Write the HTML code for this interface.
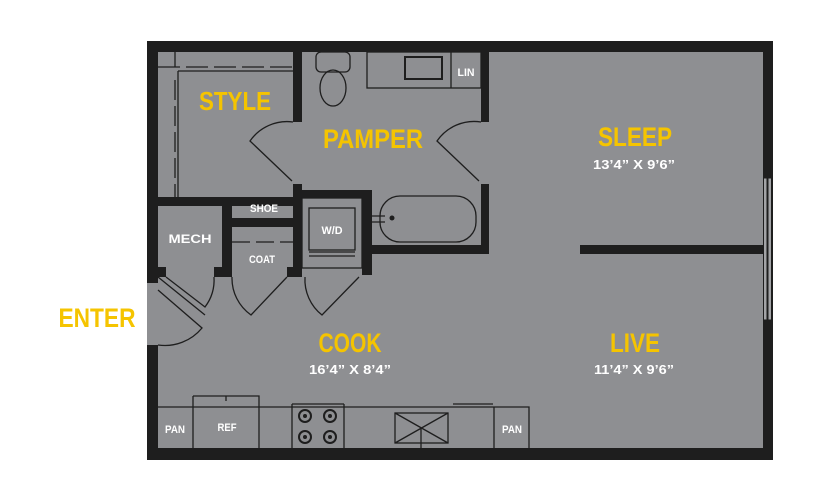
<!DOCTYPE html>
<html><head><meta charset="utf-8"><style>
html,body{margin:0;padding:0;background:#fff;}
svg{display:block;}
.y{fill:#f5c400;font-family:"Liberation Sans",sans-serif;font-weight:bold;}
.w{fill:#fff;font-family:"Liberation Sans",sans-serif;font-weight:bold;}
</style></head><body>
<svg width="825" height="500" viewBox="0 0 825 500" xmlns="http://www.w3.org/2000/svg">
<rect x="147" y="41" width="626" height="419" fill="#8e8f92"/>
<g fill="#1e1e1e">
<rect x="147" y="41" width="626" height="11"/>
<rect x="147" y="448" width="626" height="12"/>
<rect x="147" y="41" width="11" height="242"/>
<rect x="147" y="345" width="11" height="115"/>
<rect x="763" y="41" width="10" height="419"/>
<rect x="293" y="52" width="9" height="70"/>
<rect x="293" y="184" width="9" height="91"/>
<rect x="147" y="197" width="155" height="9"/>
<rect x="481" y="52" width="8" height="70"/>
<rect x="481" y="184" width="8" height="70"/>
<rect x="362" y="245" width="127" height="9"/>
<rect x="302" y="190" width="70" height="8"/>
<rect x="362" y="190" width="10" height="85"/>
<rect x="222" y="206" width="10" height="69"/>
<rect x="232" y="218" width="61" height="9"/>
<rect x="158" y="267" width="8" height="10"/>
<rect x="214" y="267" width="18" height="10"/>
<rect x="287" y="267" width="15" height="10"/>
<rect x="580" y="245" width="193" height="9"/>
</g>
<!-- window -->
<g stroke="#1e1e1e" stroke-width="1" fill="#a3a4a7">
<rect x="763.5" y="178" width="3.5" height="142"/><rect x="768" y="178" width="3.5" height="142"/>
</g>
<g fill="none" stroke="#1e1e1e" stroke-width="1.3">
<path d="M158 67 H293" stroke-dasharray="22 6"/>
<path d="M178 71 H293" />
<path d="M178 71 V197"/>
<path d="M175 80 V197" stroke-dasharray="20 6"/>
<path d="M175 52 V67"/>
<rect x="367" y="52" width="114" height="36"/>
<path d="M451 52 V88"/>
<rect x="405" y="57" width="37" height="22" stroke-width="2"/>
<rect x="316" y="52" width="34" height="20" rx="5"/>
<ellipse cx="333" cy="88" rx="13" ry="18"/>
<path d="M293 122 A45 45 0 0 0 250 141 L292 181"/>
<path d="M481 122 A45 45 0 0 0 437 141 L479 181"/>
<rect x="380" y="196" width="96" height="46" rx="20"/>
<path d="M372 216 H385 M372 222 H385"/>
<rect x="302" y="198" width="60" height="70"/>
<rect x="309" y="208" width="46" height="42"/>
<path d="M309 252 H355 M309 256 H355"/>
<path d="M232 242 H293" stroke-dasharray="18 6"/>
<path d="M158 277 L205 315 M214 277 A45 45 0 0 1 205 307 L166 277"/>
<path d="M232 277 A45 45 0 0 0 251 315 L287 277"/>
<path d="M305 277 A45 45 0 0 0 322 315 L359 277"/>
<path d="M158 345 A48 48 0 0 0 202 328 L158 290"/>
<path d="M158 407 H529 V448 M193 407 V448 M259 404 V448 M193 396 H259 V404 M193 396 V407 M226 396 V401 M292 404 V448 M344 404 V448 M292 404 H344 M494 407 V448 M453 404 H493"/>
<rect x="395" y="413" width="53" height="30"/>
<path d="M395 413 L448 443 M448 413 L395 443 M421 428 V448"/>
</g>
<g fill="none" stroke="#1e1e1e" stroke-width="2">
<circle cx="305" cy="416" r="6"/><circle cx="330" cy="416" r="6"/>
<circle cx="305" cy="437" r="6"/><circle cx="330" cy="437" r="6"/>
</g>
<g fill="#1e1e1e"><circle cx="305" cy="416" r="2"/><circle cx="330" cy="416" r="2"/><circle cx="305" cy="437" r="2"/><circle cx="330" cy="437" r="2"/><circle cx="392" cy="218" r="2.5"/></g>
<text class="y" x="235" y="110" font-size="26" text-anchor="middle" textLength="72" lengthAdjust="spacingAndGlyphs">STYLE</text>
<text class="y" x="373" y="148" font-size="27" text-anchor="middle" textLength="100" lengthAdjust="spacingAndGlyphs">PAMPER</text>
<text class="y" x="635" y="146" font-size="27" text-anchor="middle" textLength="74" lengthAdjust="spacingAndGlyphs">SLEEP</text>
<text class="w" x="634" y="169" font-size="13" text-anchor="middle" textLength="82" lengthAdjust="spacingAndGlyphs">13’4” X 9’6”</text>
<text class="y" x="350" y="352" font-size="27" text-anchor="middle" textLength="63" lengthAdjust="spacingAndGlyphs">COOK</text>
<text class="w" x="350" y="374" font-size="13" text-anchor="middle" textLength="82" lengthAdjust="spacingAndGlyphs">16’4” X 8’4”</text>
<text class="y" x="635" y="352" font-size="27" text-anchor="middle" textLength="50" lengthAdjust="spacingAndGlyphs">LIVE</text>
<text class="w" x="634" y="374" font-size="13" text-anchor="middle" textLength="80" lengthAdjust="spacingAndGlyphs">11’4” X 9’6”</text>
<text class="y" x="97" y="327" font-size="27" text-anchor="middle" textLength="77" lengthAdjust="spacingAndGlyphs">ENTER</text>
<g class="w" font-size="11" text-anchor="middle">
<text class="w" x="466" y="76" textLength="17" lengthAdjust="spacingAndGlyphs">LIN</text>
<text class="w" x="264" y="212" textLength="28" lengthAdjust="spacingAndGlyphs">SHOE</text>
<text class="w" x="190" y="243" font-size="12" textLength="43" lengthAdjust="spacingAndGlyphs">MECH</text>
<text class="w" x="332" y="234" textLength="21" lengthAdjust="spacingAndGlyphs">W/D</text>
<text class="w" x="262" y="263" textLength="26" lengthAdjust="spacingAndGlyphs">COAT</text>
<text class="w" x="175" y="433" textLength="20" lengthAdjust="spacingAndGlyphs">PAN</text>
<text class="w" x="227" y="431" textLength="19" lengthAdjust="spacingAndGlyphs">REF</text>
<text class="w" x="512" y="433" textLength="20" lengthAdjust="spacingAndGlyphs">PAN</text>
</g>
</svg>
</body></html>
